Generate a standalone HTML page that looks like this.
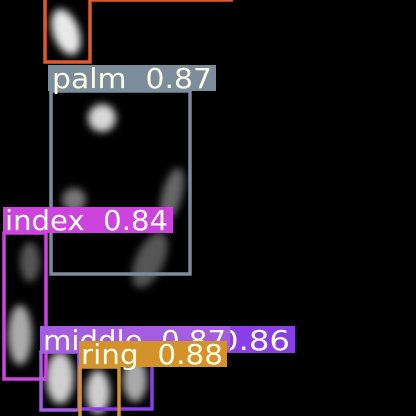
<!DOCTYPE html>
<html><head><meta charset="utf-8"><style>
html,body{margin:0;padding:0;background:#000;width:416px;height:416px;overflow:hidden}
svg{display:block}
text{font-family:"DejaVu Sans","Liberation Sans",sans-serif;font-size:28px;fill:#fdfde8;white-space:pre}
</style></head><body>
<svg width="416" height="416" viewBox="0 0 416 416">
<defs><filter id="b" x="-50%" y="-50%" width="200%" height="200%"><feGaussianBlur stdDeviation="4"/></filter></defs>
<g filter="url(#b)">
<ellipse cx="66" cy="32" rx="13" ry="24" fill="#e8e8e8" transform="rotate(-20 66 32)"/>
<ellipse cx="102" cy="118" rx="14" ry="14" fill="#d8d8d8"/>
<ellipse cx="172" cy="195" rx="10" ry="28" fill="#666" transform="rotate(15 172 195)"/>
<ellipse cx="150" cy="260" rx="14" ry="30" fill="#555" transform="rotate(25 150 260)"/>
<ellipse cx="74" cy="200" rx="12" ry="12" fill="#777"/>
<ellipse cx="20" cy="335" rx="12" ry="30" fill="#aaa"/>
<ellipse cx="30" cy="262" rx="10" ry="20" fill="#555"/>
<ellipse cx="60" cy="378" rx="14" ry="26" fill="#cfcfcf"/>
<ellipse cx="98" cy="392" rx="12" ry="22" fill="#cfcfcf"/>
<ellipse cx="135" cy="380" rx="12" ry="22" fill="#aaa"/>
</g>
<g fill="none" stroke-width="3.5">
<rect x="45" y="-5" width="45" height="67" stroke="#e2582e"/>
<line x1="90" y1="0" x2="233" y2="0" stroke="#e2582e"/>
<rect x="51" y="91" width="139" height="183" stroke="#7b8c9b"/>
<rect x="4" y="233" width="42" height="146" stroke="#cc44dd"/>
<rect x="80" y="352" width="72" height="57" stroke="#8a3fe6"/>
<rect x="41" y="352" width="38" height="58" stroke="#a45ce0"/>
<rect x="80" y="367" width="39" height="52" stroke="#d4922a"/>
</g>
<g>
<rect x="48" y="65" width="168" height="26" fill="#7b8c9b"/>
<text x="52" y="88" textLength="160" lengthAdjust="spacingAndGlyphs" xml:space="preserve">palm  0.87</text></g>
<g>
<rect x="3" y="207" width="170" height="26" fill="#cc44dd"/>
<text x="5" y="230" textLength="163" lengthAdjust="spacingAndGlyphs" xml:space="preserve">index  0.84</text></g>
<g>
<rect x="150" y="326" width="145" height="27" fill="#8a3fe6"/>
<text x="218" y="350" textLength="72" lengthAdjust="spacingAndGlyphs">0.86</text></g>
<g>
<rect x="40" y="326" width="190" height="26" fill="#a45ce0"/>
<text x="43" y="350" textLength="183" lengthAdjust="spacingAndGlyphs" xml:space="preserve">middle  0.87</text></g>
<g>
<rect x="79" y="341" width="148" height="26" fill="#d4922a"/>
<text x="81" y="364" textLength="142" lengthAdjust="spacingAndGlyphs" xml:space="preserve">ring  0.88</text></g>
</svg>
</body></html>
